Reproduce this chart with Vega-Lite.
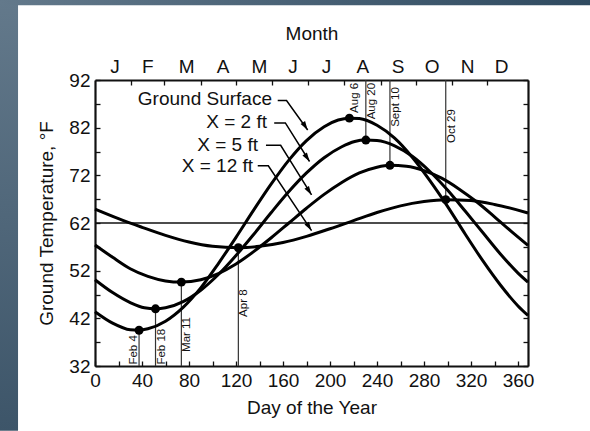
{
  "$schema": "https://vega.github.io/schema/vega-lite/v6.json",
  "width": 433,
  "height": 286,
  "autosize": {"type": "none"},
  "padding": {"left": 95, "top": 80, "right": 62, "bottom": 65},
  "background": "#ffffff",
  "config": {
    "view": {"stroke": null},
    "font": "Liberation Sans",
    "axis": {
      "domain": true,
      "domainColor": "#111",
      "domainWidth": 2.2,
      "grid": false,
      "tickColor": "#111",
      "tickWidth": 1.3,
      "tickSize": -5,
      "labelFont": "Liberation Sans",
      "labelFontSize": 19,
      "labelColor": "#111",
      "labelFlush": false,
      "labelOverlap": false,
      "titleFont": "Liberation Sans",
      "titleFontSize": 19,
      "titleFontWeight": "normal",
      "titleColor": "#111"
    }
  },
  "datasets": {
    "one": [{}],
    "curves": [
      {"s": "Ground Surface", "d": 0, "t": 43.4},
      {"s": "Ground Surface", "d": 15, "t": 41.0},
      {"s": "Ground Surface", "d": 30, "t": 39.6},
      {"s": "Ground Surface", "d": 37.5, "t": 39.5},
      {"s": "Ground Surface", "d": 45, "t": 39.8},
      {"s": "Ground Surface", "d": 60, "t": 41.4},
      {"s": "Ground Surface", "d": 75, "t": 44.3},
      {"s": "Ground Surface", "d": 90, "t": 48.4},
      {"s": "Ground Surface", "d": 105, "t": 53.5},
      {"s": "Ground Surface", "d": 120, "t": 59.0},
      {"s": "Ground Surface", "d": 135, "t": 64.7},
      {"s": "Ground Surface", "d": 150, "t": 70.2},
      {"s": "Ground Surface", "d": 165, "t": 75.2},
      {"s": "Ground Surface", "d": 180, "t": 79.3},
      {"s": "Ground Surface", "d": 195, "t": 82.2},
      {"s": "Ground Surface", "d": 207, "t": 83.6},
      {"s": "Ground Surface", "d": 216.5, "t": 84.0},
      {"s": "Ground Surface", "d": 225, "t": 83.9},
      {"s": "Ground Surface", "d": 240, "t": 82.5},
      {"s": "Ground Surface", "d": 255, "t": 79.8},
      {"s": "Ground Surface", "d": 270, "t": 75.8},
      {"s": "Ground Surface", "d": 285, "t": 70.9},
      {"s": "Ground Surface", "d": 300, "t": 65.5},
      {"s": "Ground Surface", "d": 315, "t": 59.7},
      {"s": "Ground Surface", "d": 330, "t": 54.1},
      {"s": "Ground Surface", "d": 345, "t": 49.0},
      {"s": "Ground Surface", "d": 360, "t": 44.6},
      {"s": "Ground Surface", "d": 368.5, "t": 42.6},
      {"s": "X = 2 ft", "d": 0, "t": 50.1},
      {"s": "X = 2 ft", "d": 15, "t": 47.4},
      {"s": "X = 2 ft", "d": 30, "t": 45.3},
      {"s": "X = 2 ft", "d": 42, "t": 44.2},
      {"s": "X = 2 ft", "d": 51.5, "t": 44.0},
      {"s": "X = 2 ft", "d": 60, "t": 44.2},
      {"s": "X = 2 ft", "d": 75, "t": 45.5},
      {"s": "X = 2 ft", "d": 90, "t": 47.9},
      {"s": "X = 2 ft", "d": 105, "t": 51.2},
      {"s": "X = 2 ft", "d": 120, "t": 55.2},
      {"s": "X = 2 ft", "d": 135, "t": 59.6},
      {"s": "X = 2 ft", "d": 150, "t": 64.2},
      {"s": "X = 2 ft", "d": 165, "t": 68.6},
      {"s": "X = 2 ft", "d": 180, "t": 72.5},
      {"s": "X = 2 ft", "d": 195, "t": 75.7},
      {"s": "X = 2 ft", "d": 210, "t": 78.0},
      {"s": "X = 2 ft", "d": 221, "t": 79.1},
      {"s": "X = 2 ft", "d": 230.5, "t": 79.4},
      {"s": "X = 2 ft", "d": 240, "t": 79.3},
      {"s": "X = 2 ft", "d": 255, "t": 78.2},
      {"s": "X = 2 ft", "d": 270, "t": 76.0},
      {"s": "X = 2 ft", "d": 285, "t": 72.8},
      {"s": "X = 2 ft", "d": 300, "t": 68.9},
      {"s": "X = 2 ft", "d": 315, "t": 64.5},
      {"s": "X = 2 ft", "d": 330, "t": 60.0},
      {"s": "X = 2 ft", "d": 345, "t": 55.5},
      {"s": "X = 2 ft", "d": 360, "t": 51.5},
      {"s": "X = 2 ft", "d": 368.5, "t": 49.6},
      {"s": "X = 5 ft", "d": 0, "t": 57.4},
      {"s": "X = 5 ft", "d": 15, "t": 54.8},
      {"s": "X = 5 ft", "d": 30, "t": 52.4},
      {"s": "X = 5 ft", "d": 45, "t": 50.8},
      {"s": "X = 5 ft", "d": 60, "t": 49.85},
      {"s": "X = 5 ft", "d": 73.5, "t": 49.6},
      {"s": "X = 5 ft", "d": 90, "t": 50.1},
      {"s": "X = 5 ft", "d": 105, "t": 51.4},
      {"s": "X = 5 ft", "d": 120, "t": 53.4},
      {"s": "X = 5 ft", "d": 135, "t": 56.0},
      {"s": "X = 5 ft", "d": 150, "t": 58.9},
      {"s": "X = 5 ft", "d": 165, "t": 62.0},
      {"s": "X = 5 ft", "d": 180, "t": 65.1},
      {"s": "X = 5 ft", "d": 195, "t": 68.0},
      {"s": "X = 5 ft", "d": 210, "t": 70.5},
      {"s": "X = 5 ft", "d": 225, "t": 72.5},
      {"s": "X = 5 ft", "d": 240, "t": 73.7},
      {"s": "X = 5 ft", "d": 251, "t": 74.1},
      {"s": "X = 5 ft", "d": 265, "t": 73.9},
      {"s": "X = 5 ft", "d": 280, "t": 73.0},
      {"s": "X = 5 ft", "d": 295, "t": 71.4},
      {"s": "X = 5 ft", "d": 310, "t": 69.1},
      {"s": "X = 5 ft", "d": 325, "t": 66.4},
      {"s": "X = 5 ft", "d": 340, "t": 63.3},
      {"s": "X = 5 ft", "d": 355, "t": 60.1},
      {"s": "X = 5 ft", "d": 368.5, "t": 57.3},
      {"s": "X = 12 ft", "d": 0, "t": 64.9},
      {"s": "X = 12 ft", "d": 20, "t": 62.9},
      {"s": "X = 12 ft", "d": 40, "t": 61.1},
      {"s": "X = 12 ft", "d": 60, "t": 59.4},
      {"s": "X = 12 ft", "d": 80, "t": 58.0},
      {"s": "X = 12 ft", "d": 100, "t": 57.1},
      {"s": "X = 12 ft", "d": 122, "t": 56.8},
      {"s": "X = 12 ft", "d": 140, "t": 57.1},
      {"s": "X = 12 ft", "d": 160, "t": 57.9},
      {"s": "X = 12 ft", "d": 180, "t": 59.2},
      {"s": "X = 12 ft", "d": 200, "t": 60.8},
      {"s": "X = 12 ft", "d": 220, "t": 62.5},
      {"s": "X = 12 ft", "d": 240, "t": 64.2},
      {"s": "X = 12 ft", "d": 260, "t": 65.6},
      {"s": "X = 12 ft", "d": 280, "t": 66.5},
      {"s": "X = 12 ft", "d": 298.5, "t": 66.9},
      {"s": "X = 12 ft", "d": 320, "t": 66.7},
      {"s": "X = 12 ft", "d": 340, "t": 65.9},
      {"s": "X = 12 ft", "d": 368.5, "t": 64.1}
    ],
    "dots": [
      {"s": "Ground Surface", "d": 37.5, "t": 39.5},
      {"s": "X = 2 ft", "d": 51.5, "t": 44.0},
      {"s": "X = 5 ft", "d": 73.5, "t": 49.6},
      {"s": "X = 12 ft", "d": 122, "t": 56.8},
      {"s": "Ground Surface", "d": 216.5, "t": 84.0},
      {"s": "X = 2 ft", "d": 230.5, "t": 79.4},
      {"s": "X = 5 ft", "d": 251, "t": 74.1},
      {"s": "X = 12 ft", "d": 298.5, "t": 66.9}
    ],
    "dates": [
      {"label": "Feb 4", "d": 37.5, "t1": 32, "t2": 39.5, "lt": 32.3, "pos": "low"},
      {"label": "Feb 18", "d": 51.5, "t1": 32, "t2": 44.0, "lt": 32.3, "pos": "low"},
      {"label": "Mar 11", "d": 73.5, "t1": 32, "t2": 49.6, "lt": 34.95, "pos": "low"},
      {"label": "Apr 8", "d": 122, "t1": 32, "t2": 56.8, "lt": 42.3, "pos": "low"},
      {"label": "Aug 20", "d": 230.5, "t1": 79.4, "t2": 92, "lt": 91.4, "pos": "high"},
      {"label": "Sept 10", "d": 251, "t1": 74.1, "t2": 92, "lt": 90.5, "pos": "high"},
      {"label": "Oct 29", "d": 298.5, "t1": 66.9, "t2": 92, "lt": 85.9, "pos": "high"}
    ],
    "peakLabels": [
      {"label": "Aug 6", "d": 216.5, "lt": 91.4}
    ],
    "arrows": [
      {"a": "Ground Surface", "i": 1, "d": 155.5, "t": 87.7},
      {"a": "Ground Surface", "i": 2, "d": 163, "t": 87.7},
      {"a": "Ground Surface", "i": 3, "d": 181, "t": 81.5},
      {"a": "X = 2 ft", "i": 1, "d": 152.5, "t": 83.0},
      {"a": "X = 2 ft", "i": 2, "d": 162, "t": 83.0},
      {"a": "X = 2 ft", "i": 3, "d": 182.6, "t": 74.9},
      {"a": "X = 5 ft", "i": 1, "d": 145.5, "t": 78.3},
      {"a": "X = 5 ft", "i": 2, "d": 158, "t": 78.3},
      {"a": "X = 5 ft", "i": 3, "d": 184.3, "t": 67.9},
      {"a": "X = 12 ft", "i": 1, "d": 138.5, "t": 74.0},
      {"a": "X = 12 ft", "i": 2, "d": 147.5, "t": 74.0},
      {"a": "X = 12 ft", "i": 3, "d": 184.3, "t": 60.4}
    ],
    "seriesLabels": [
      {"text": "Ground Surface", "d": 150.6, "t": 86.75},
      {"text": "X = 2 ft", "d": 146.4, "t": 81.9},
      {"text": "X = 5 ft", "d": 138.7, "t": 77.2},
      {"text": "X = 12 ft", "d": 134.5, "t": 72.8}
    ],
    "months": [
      {"m": "J", "d": 17}, {"m": "F", "d": 45}, {"m": "M", "d": 78},
      {"m": "A", "d": 109}, {"m": "M", "d": 140}, {"m": "J", "d": 168.5},
      {"m": "J", "d": 197}, {"m": "A", "d": 228}, {"m": "S", "d": 258},
      {"m": "O", "d": 287}, {"m": "N", "d": 317}, {"m": "D", "d": 346}
    ]
  },
  "layer": [
    {
      "data": {"name": "one"},
      "mark": {
        "type": "rect",
        "color": {"gradient": "linear", "x1": 0, "y1": 0, "x2": 0, "y2": 1, "stops": [{"offset": 0, "color": "#63798b"}, {"offset": 1, "color": "#3d5569"}]}
      },
      "encoding": {
        "x": {"datum": -200, "type": "quantitative", "scale": {"domain": [0, 368.5], "nice": false, "zero": false}, "axis": null},
        "x2": {"datum": -65.5},
        "y": {"datum": 108.8, "type": "quantitative", "scale": {"domain": [32, 92], "nice": false, "zero": false}, "axis": null},
        "y2": {"datum": 18.4}
      }
    },
    {
      "data": {"name": "one"},
      "mark": {
        "type": "rect",
        "color": {"gradient": "linear", "x1": 0, "y1": 0, "x2": 1, "y2": 0, "stops": [{"offset": 0, "color": "#63798b"}, {"offset": 1, "color": "#2f4a60"}]}
      },
      "encoding": {
        "x": {"datum": -80.8, "type": "quantitative", "scale": {"domain": [0, 368.5], "nice": false, "zero": false}, "axis": null},
        "x2": {"datum": 421.3},
        "y": {"datum": 108.8, "type": "quantitative", "scale": {"domain": [32, 92], "nice": false, "zero": false}, "axis": null},
        "y2": {"datum": 107.7}
      }
    },
    {
      "data": {"name": "one"},
      "mark": {"type": "rule", "color": "#111", "strokeWidth": 1.3},
      "encoding": {
        "y": {"datum": 62, "type": "quantitative", "scale": {"domain": [32, 92], "nice": false, "zero": false}, "axis": null}
      }
    },
    {
      "data": {"name": "dates"},
      "mark": {"type": "rule", "color": "#333", "strokeWidth": 1.2},
      "encoding": {
        "x": {"field": "d", "type": "quantitative", "scale": {"domain": [0, 368.5], "nice": false, "zero": false}, "axis": null},
        "y": {"field": "t1", "type": "quantitative", "scale": {"domain": [32, 92], "nice": false, "zero": false}, "axis": null},
        "y2": {"field": "t2"}
      }
    },
    {
      "data": {"name": "curves"},
      "mark": {"type": "line", "color": "#000", "strokeWidth": 3, "interpolate": "monotone"},
      "encoding": {
        "x": {
          "field": "d", "type": "quantitative",
          "scale": {"domain": [0, 368.5], "nice": false, "zero": false},
          "axis": {
            "orient": "bottom",
            "values": [0, 20, 40, 60, 80, 100, 120, 140, 160, 180, 200, 220, 240, 260, 280, 300, 320, 340, 360],
            "labelExpr": "datum.value % 40 === 0 ? datum.label : ''",
            "labelPadding": 10,
            "title": "Day of the Year",
            "titlePadding": 8
          }
        },
        "y": {
          "field": "t", "type": "quantitative",
          "scale": {"domain": [32, 92], "nice": false, "zero": false},
          "axis": {
            "orient": "left",
            "values": [32, 37, 42, 47, 52, 57, 62, 67, 72, 77, 82, 87, 92],
            "labelExpr": "(datum.value - 32) % 10 === 0 ? datum.label : ''",
            "labelPadding": 10,
            "title": "Ground Temperature, °F",
            "titlePadding": 12
          }
        },
        "detail": {"field": "s"}
      }
    },
    {
      "data": {"name": "dots"},
      "mark": {"type": "point", "filled": true, "color": "#000", "size": 80, "opacity": 1},
      "encoding": {
        "x": {
          "field": "d", "type": "quantitative",
          "scale": {"domain": [0, 368.5], "nice": false, "zero": false},
          "axis": {
            "orient": "top",
            "values": [31, 59, 90, 120, 151, 181, 212, 243, 273, 304, 334],
            "labels": false,
            "title": "Month",
            "titlePadding": 36
          }
        },
        "y": {
          "field": "t", "type": "quantitative",
          "scale": {"domain": [32, 92], "nice": false, "zero": false},
          "axis": {
            "orient": "right",
            "values": [32, 37, 42, 47, 52, 57, 62, 67, 72, 77, 82, 87, 92],
            "labels": false,
            "title": null
          }
        }
      }
    },
    {
      "data": {"name": "arrows"},
      "mark": {"type": "line", "color": "#000", "strokeWidth": 1.5},
      "encoding": {
        "x": {"field": "d", "type": "quantitative", "scale": {"domain": [0, 368.5], "nice": false, "zero": false}, "axis": null},
        "y": {"field": "t", "type": "quantitative", "scale": {"domain": [32, 92], "nice": false, "zero": false}, "axis": null},
        "detail": {"field": "a"},
        "order": {"field": "i"}
      }
    },
    {
      "data": {"name": "arrows"},
      "transform": [{"filter": "datum.i === 3"}],
      "mark": {"type": "point", "filled": true, "color": "#000", "opacity": 1, "shape": "M0,0L-2,-0.6L-2,0.6Z", "size": 80, "angle": 57},
      "encoding": {
        "x": {"field": "d", "type": "quantitative", "scale": {"domain": [0, 368.5], "nice": false, "zero": false}, "axis": null},
        "y": {"field": "t", "type": "quantitative", "scale": {"domain": [32, 92], "nice": false, "zero": false}, "axis": null}
      }
    },
    {
      "data": {"name": "seriesLabels"},
      "mark": {"type": "text", "align": "right", "baseline": "alphabetic", "fontSize": 19, "font": "Liberation Sans", "color": "#111"},
      "encoding": {
        "x": {"field": "d", "type": "quantitative", "scale": {"domain": [0, 368.5], "nice": false, "zero": false}, "axis": null},
        "y": {"field": "t", "type": "quantitative", "scale": {"domain": [32, 92], "nice": false, "zero": false}, "axis": null},
        "text": {"field": "text"}
      }
    },
    {
      "data": {"name": "dates"},
      "transform": [{"filter": "datum.pos === 'low' && datum.label !== 'Feb 4'"}],
      "mark": {"type": "text", "angle": 270, "align": "left", "baseline": "top", "fontSize": 11.5, "font": "Liberation Sans", "color": "#111"},
      "encoding": {
        "x": {"field": "d", "type": "quantitative", "scale": {"domain": [0, 368.5], "nice": false, "zero": false}, "axis": null},
        "y": {"field": "lt", "type": "quantitative", "scale": {"domain": [32, 92], "nice": false, "zero": false}, "axis": null},
        "text": {"field": "label"}
      }
    },
    {
      "data": {"name": "dates"},
      "transform": [{"filter": "datum.label === 'Feb 4'"}],
      "mark": {"type": "text", "angle": 270, "align": "left", "baseline": "bottom", "fontSize": 11.5, "font": "Liberation Sans", "color": "#111"},
      "encoding": {
        "x": {"field": "d", "type": "quantitative", "scale": {"domain": [0, 368.5], "nice": false, "zero": false}, "axis": null},
        "y": {"field": "lt", "type": "quantitative", "scale": {"domain": [32, 92], "nice": false, "zero": false}, "axis": null},
        "text": {"field": "label"}
      }
    },
    {
      "data": {"name": "dates"},
      "transform": [{"filter": "datum.pos === 'high'"}],
      "mark": {"type": "text", "angle": 270, "align": "right", "baseline": "top", "fontSize": 11.5, "font": "Liberation Sans", "color": "#111"},
      "encoding": {
        "x": {"field": "d", "type": "quantitative", "scale": {"domain": [0, 368.5], "nice": false, "zero": false}, "axis": null},
        "y": {"field": "lt", "type": "quantitative", "scale": {"domain": [32, 92], "nice": false, "zero": false}, "axis": null},
        "text": {"field": "label"}
      }
    },
    {
      "data": {"name": "peakLabels"},
      "mark": {"type": "text", "angle": 270, "align": "right", "baseline": "top", "fontSize": 11.5, "font": "Liberation Sans", "color": "#111"},
      "encoding": {
        "x": {"field": "d", "type": "quantitative", "scale": {"domain": [0, 368.5], "nice": false, "zero": false}, "axis": null},
        "y": {"field": "lt", "type": "quantitative", "scale": {"domain": [32, 92], "nice": false, "zero": false}, "axis": null},
        "text": {"field": "label"}
      }
    },
    {
      "data": {"name": "months"},
      "mark": {"type": "text", "align": "center", "baseline": "alphabetic", "dy": -7, "fontSize": 19, "font": "Liberation Sans", "color": "#111"},
      "encoding": {
        "x": {"field": "d", "type": "quantitative", "scale": {"domain": [0, 368.5], "nice": false, "zero": false}, "axis": null},
        "y": {"datum": 92, "type": "quantitative", "scale": {"domain": [32, 92], "nice": false, "zero": false}, "axis": null},
        "text": {"field": "m"}
      }
    }
  ],
  "resolve": {"axis": {"x": "independent", "y": "independent"}}
}
